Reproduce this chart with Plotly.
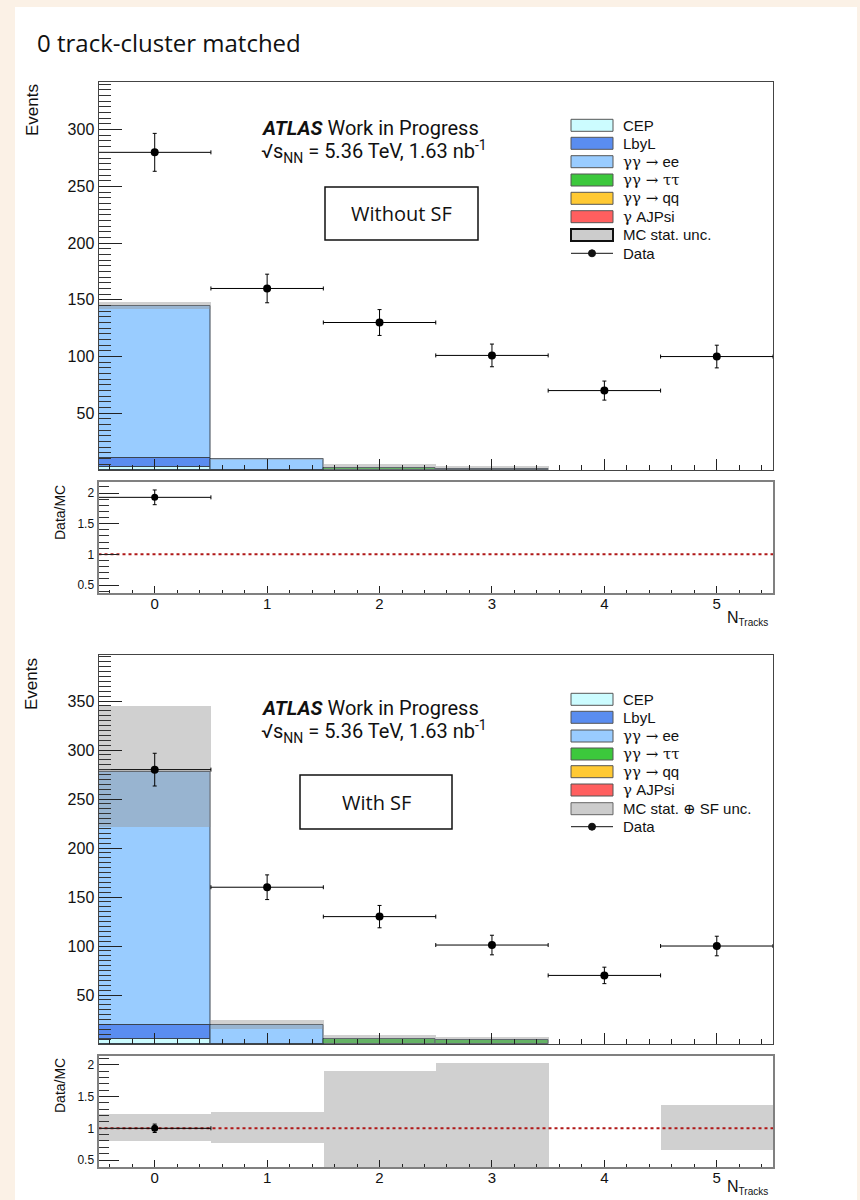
import plotly.graph_objects as go

W, H = 860, 1200


def px(x):
    return x / W


def py(y):
    return 1 - y / H


# ---------------- data ----------------
bins = [0, 1, 2, 3, 4, 5]
half_width = [0.5, 0.5, 0.5, 0.5, 0.5, 0.5]
data = [280, 160, 130, 101, 70, 100]
data_err = [16.7, 12.6, 11.4, 10.0, 8.4, 10.0]

# Without SF
cep_nosf = [3.0, 0, 0, 0, 0, 0]
lbyl_nosf = [7.5, 0, 0, 0, 0, 0]
ee_nosf = [134.5, 9.5, 0, 0, 0, 0]
tautau_nosf = [0, 0, 2.0, 1.2, 0, 0]
qq_nosf = [0, 0, 0, 0, 0, 0]
ajpsi_nosf = [0, 0, 0, 0, 0, 0]
band_lo_nosf = [141.5, 8.5, 0.0, 0.0, None, None]
band_hi_nosf = [148.5, 10.5, 5.3, 3.8, None, None]
ratio_nosf = [1.93, None, None, None, None, None]
ratio_err_nosf = [0.12, None, None, None, None, None]
rband_lo_nosf = [None, None, None, None, None, None]
rband_hi_nosf = [None, None, None, None, None, None]

# With SF
cep_sf = [4.8, 0, 0, 0, 0, 0]
lbyl_sf = [14.6, 0, 0, 0, 0, 0]
ee_sf = [258.6, 19.5, 0, 0, 0, 0]
tautau_sf = [0, 0, 4.6, 3.8, 0, 0]
qq_sf = [0, 0, 0, 0, 0, 0]
ajpsi_sf = [0, 0, 0, 0, 0, 0]
band_lo_sf = [221.0, 15.0, 0.0, 0.0, None, None]
band_hi_sf = [345.0, 24.5, 9.2, 7.6, None, None]
ratio_sf = [1.00, None, None, None, None, None]
ratio_err_sf = [0.066, None, None, None, None, None]
rband_lo_sf = [0.80, 0.77, 0.0, 0.0, None, 0.66]
rband_hi_sf = [1.23, 1.25, 1.91, 2.03, None, 1.37]

GREEK = '<span style="font-family:DejaVu Serif">%s</span>'
names = ["CEP", "LbyL", "γγ → ee", "γγ → ττ", "γγ → qq", "γ AJPsi"]
names_html = ["CEP", "LbyL", GREEK % "γγ →" + " ee", GREEK % "γγ → ττ",
              GREEK % "γγ →" + " qq", GREEK % "γ" + " AJPsi"]
colors = ["#ccfcff", "#5a8df0", "#99ccff", "#3cc83c", "#ffc933", "#ff5f5f"]

# ---------------- geometry ----------------
XL, XR = 98.5, 773
panels = {
    "top": dict(main=(82, 470), ratio=(482, 593), yr=[0, 342], rr=[0.37, 2.18]),
    "bot": dict(main=(655, 1044), ratio=(1056, 1167), yr=[0, 397], rr=[0.39, 2.14]),
}

fig = go.Figure()

BAND_COL = "rgba(150,150,150,0.45)"
OUTLINE = "#3a4450"
FONT = "Liberation Sans, Arial, sans-serif"


def add_panel(xa, ya, xr, yr_ax, comps, band_lo, band_hi, ratio, ratio_err, rlo, rhi):
    base = [0.0] * len(bins)
    for (nm, col), vals in zip(zip(names, colors), comps):
        yv = [v if v > 0 else None for v in vals]
        fig.add_trace(go.Bar(
            x=bins, y=yv, base=base, width=1, xaxis=xa, yaxis=ya,
            marker=dict(color=col, line=dict(color=OUTLINE, width=1)),
            showlegend=False, name=nm, hoverinfo="skip"))
        base = [b + v for b, v in zip(base, vals)]
    hgt = [(h - l) if (h is not None and l is not None) else None for l, h in zip(band_lo, band_hi)]
    fig.add_trace(go.Bar(
        x=bins, y=hgt, base=band_lo, width=1, xaxis=xa, yaxis=ya,
        marker=dict(color=BAND_COL, line=dict(width=0)), showlegend=False, hoverinfo="skip"))
    fig.add_trace(go.Scatter(
        x=bins, y=data, mode="markers", xaxis=xa, yaxis=ya,
        marker=dict(color="black", size=8),
        error_x=dict(type="data", array=half_width, color="black", thickness=1, width=2),
        error_y=dict(type="data", array=data_err, color="black", thickness=1, width=2),
        showlegend=False, hoverinfo="skip"))
    rh = [(h - l) if (h is not None and l is not None) else None for l, h in zip(rlo, rhi)]
    fig.add_trace(go.Bar(
        x=bins, y=rh, base=rlo, width=1, xaxis=xr, yaxis=yr_ax,
        marker=dict(color="#d0d0d0", line=dict(width=0)), showlegend=False, hoverinfo="skip"))
    fig.add_trace(go.Scatter(
        x=[-0.5, 5.5], y=[1, 1], mode="lines", xaxis=xr, yaxis=yr_ax,
        line=dict(color="#b01818", width=2, dash="dot"), showlegend=False, hoverinfo="skip"))
    fig.add_trace(go.Scatter(
        x=bins, y=ratio, mode="markers", xaxis=xr, yaxis=yr_ax,
        marker=dict(color="black", size=7),
        error_x=dict(type="data", array=half_width, color="black", thickness=1, width=2),
        error_y=dict(type="data", array=ratio_err, color="black", thickness=1, width=2),
        showlegend=False, hoverinfo="skip"))


add_panel("x", "y", "x2", "y2",
          [cep_nosf, lbyl_nosf, ee_nosf, tautau_nosf, qq_nosf, ajpsi_nosf],
          band_lo_nosf, band_hi_nosf, ratio_nosf, ratio_err_nosf, rband_lo_nosf, rband_hi_nosf)
add_panel("x3", "y3", "x4", "y4",
          [cep_sf, lbyl_sf, ee_sf, tautau_sf, qq_sf, ajpsi_sf],
          band_lo_sf, band_hi_sf, ratio_sf, ratio_err_sf, rband_lo_sf, rband_hi_sf)

xdom = [px(XL), px(XR)]


def xaxis(main, anchor):
    d = dict(
        domain=xdom, range=[-0.5, 5.5], anchor=anchor,
        tickmode="linear", tick0=0, dtick=1,
        ticks="inside", ticklen=11 if main else 7, tickcolor="#222", tickwidth=1,
        minor=dict(ticks="inside", ticklen=5 if main else 3.5, dtick=0.2, tick0=0, tickcolor="#222"),
        showticklabels=not main, tickfont=dict(family=FONT, size=15, color="#111"),
        showline=True, mirror=True, linecolor="#444" if main else "#808080",
        linewidth=1 if main else 2, showgrid=False, zeroline=False, fixedrange=True)
    if not main:
        d["ticklabelstandoff"] = -4
    return d


def yaxis(main, top_px, bot_px, rng, anchor, tv):
    return dict(
        domain=[py(bot_px), py(top_px)], range=rng, anchor=anchor,
        tickmode="array", tickvals=tv, ticktext=[("%g" % v) for v in tv],
        ticks="inside", ticklen=23 if main else 20, tickcolor="#222", tickwidth=1,
        minor=dict(ticks="inside", ticklen=12 if main else 10,
                   tickmode="linear", dtick=5 if main else 0.1, tick0=0, tickcolor="#333"),
        tickfont=dict(family=FONT, size=16 if main else 12, color="#111"),
        showline=True, mirror=True, linecolor="#444" if main else "#808080",
        linewidth=1 if main else 2, showgrid=False, zeroline=False, fixedrange=True)


t, b = panels["top"], panels["bot"]
fig.update_layout(
    xaxis=xaxis(True, "y"), xaxis2=xaxis(False, "y2"),
    xaxis3=xaxis(True, "y3"), xaxis4=xaxis(False, "y4"),
    yaxis=yaxis(True, *t["main"], t["yr"], "x", [50, 100, 150, 200, 250, 300]),
    yaxis2=yaxis(False, *t["ratio"], t["rr"], "x2", [0.5, 1, 1.5, 2]),
    yaxis3=yaxis(True, *b["main"], b["yr"], "x3", [50, 100, 150, 200, 250, 300, 350]),
    yaxis4=yaxis(False, *b["ratio"], b["rr"], "x4", [0.5, 1, 1.5, 2]),
)

shapes = []
annotations = []

shapes.append(dict(type="rect", xref="paper", yref="paper", x0=px(15), x1=px(857),
                   y0=py(1200), y1=py(7), fillcolor="white", line=dict(width=0), layer="below"))


def txt(s, x, y, size, family=FONT, anchor="left", angle=0, color="#111"):
    annotations.append(dict(text=s, x=px(x), y=py(y), xref="paper", yref="paper",
                            xanchor=anchor, yanchor="middle", showarrow=False, textangle=angle,
                            font=dict(family=family, size=size, color=color)))


txt("0 track-cluster matched", 35, 42, 24, "Open Sans")


def legend(y_rows, mc_label, mc_border):
    for i, (nm, col) in enumerate(zip(names_html, colors)):
        yc = y_rows[i]
        shapes.append(dict(type="rect", xref="paper", yref="paper", x0=px(571), x1=px(613),
                           y0=py(yc + 6), y1=py(yc - 6), fillcolor=col,
                           line=dict(color="#555", width=1)))
        txt(nm, 621, yc, 15)
    yc = y_rows[6]
    shapes.append(dict(type="rect", xref="paper", yref="paper", x0=px(571), x1=px(613),
                       y0=py(yc + 6), y1=py(yc - 6), fillcolor="#cccccc",
                       line=dict(color=mc_border, width=2 if mc_border == "#111" else 1)))
    txt(mc_label, 621, yc, 15)
    yc = y_rows[7]
    shapes.append(dict(type="line", xref="paper", yref="paper", x0=px(571), x1=px(613),
                       y0=py(yc), y1=py(yc), line=dict(color="#111", width=1)))
    shapes.append(dict(type="circle", xref="paper", yref="paper", x0=px(588.5), x1=px(595.5),
                       y0=py(yc + 3.5), y1=py(yc - 3.5), fillcolor="#111", line=dict(color="#111", width=1)))
    txt("Data", 621, yc, 15)


legend([125.3, 143.3, 161.7, 180, 198.3, 216.7, 235, 253.3], "MC stat. unc.", "#111")
legend([699.3, 717.3, 736, 754, 771.7, 790, 808.7, 826.7],
       "MC stat. " + GREEK % "⊕" + " SF unc.", "#666")

ROB = "Roboto, Arial, sans-serif"
for y1, y2 in [(128, 151), (708, 731)]:
    txt("<b><i>ATLAS</i></b> Work in Progress", 259, y1, 20, ROB)
    txt("√s<sub>NN</sub> = 5.36 TeV, 1.63 nb<sup>-1</sup>", 259, y2, 20, ROB)

# SF boxes
shapes.append(dict(type="rect", xref="paper", yref="paper", x0=px(325), x1=px(478),
                   y0=py(240), y1=py(187), line=dict(color="#111", width=1.5), fillcolor="white"))
txt("Without SF", 401.5, 213, 20, "Open Sans", "center")
shapes.append(dict(type="rect", xref="paper", yref="paper", x0=px(300), x1=px(452),
                   y0=py(829), y1=py(775), line=dict(color="#111", width=1.5), fillcolor="white"))
txt("With SF", 376, 802, 20, "Open Sans", "center")

# axis titles
txt("Events", 32, 110, 17, FONT, "center", -90)
txt("Events", 32, 684, 17, FONT, "center", -90)
txt("Data/MC", 60, 513, 14, FONT, "center", -90)
txt("Data/MC", 60, 1086, 14, FONT, "center", -90)
NT = 'N<sub><span style="font-size:10px">Tracks</span></sub>'
txt(NT, 770, 618, 16, FONT, "right")
txt(NT, 770, 1187, 16, FONT, "right")

fig.update_layout(
    width=W, height=H, margin=dict(l=0, r=0, t=0, b=0),
    paper_bgcolor="#fbf1e6", plot_bgcolor="white",
    barmode="overlay", bargap=0, showlegend=False,
    shapes=shapes, annotations=annotations,
)

fig.write_html("out.html")
